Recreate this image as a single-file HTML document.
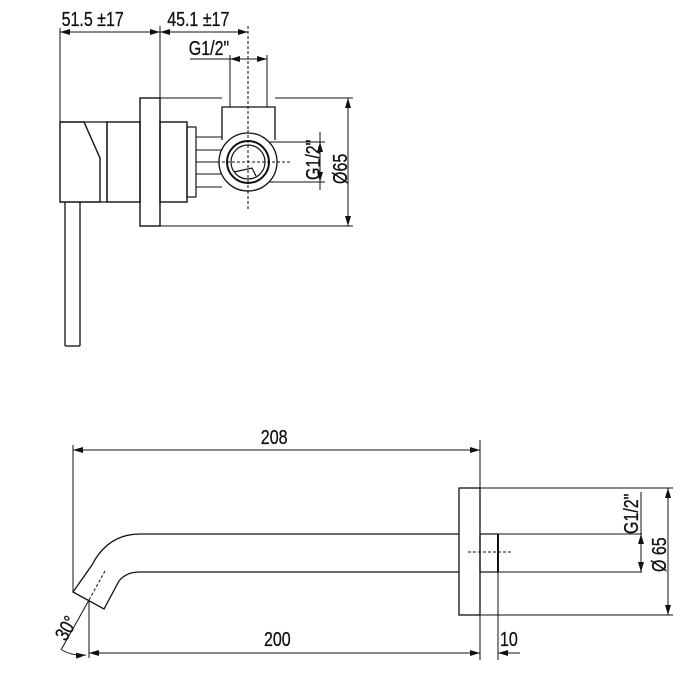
<!DOCTYPE html>
<html><head><style>
html,body{margin:0;padding:0;background:#fff}
svg{display:block}
text{font-family:"Liberation Sans",sans-serif;font-size:20px;fill:#111}
</style></head><body>
<svg width="700" height="700" viewBox="0 0 700 700" xmlns="http://www.w3.org/2000/svg">
<defs>
<marker id="a" viewBox="0 0 10 6" refX="10" refY="3" markerWidth="10" markerHeight="6" orient="auto-start-reverse" markerUnits="userSpaceOnUse"><path d="M0,0 L10,3 L0,6 z" fill="#111"/></marker>
</defs>
<g stroke="#111" stroke-width="1" fill="none">
<line x1="60" y1="28" x2="60" y2="122"/>
<line x1="160" y1="26" x2="160" y2="98"/>
<line x1="60" y1="32" x2="160" y2="32" marker-start="url(#a)" marker-end="url(#a)"/>
<line x1="160" y1="32" x2="248" y2="32" marker-start="url(#a)" marker-end="url(#a)"/>
<line x1="248" y1="26" x2="248" y2="210" stroke-dasharray="3,2"/>
<line x1="190" y1="59" x2="230" y2="59"/>
<line x1="230" y1="59" x2="267" y2="59" marker-start="url(#a)" marker-end="url(#a)"/>
<line x1="230" y1="55" x2="230" y2="107"/>
<line x1="267" y1="55" x2="267" y2="107"/>
<rect x="140" y="98" width="20" height="128" stroke-width="1.4"/>
<line x1="160" y1="98" x2="222" y2="98"/>
<line x1="275" y1="98" x2="353" y2="98"/>
<line x1="160" y1="226" x2="353" y2="226"/>
<line x1="348" y1="98" x2="348" y2="226" marker-start="url(#a)" marker-end="url(#a)"/>
<path d="M60,122 L84,122 L100,158 L100,202 L60,202 Z" stroke-width="1.4"/>
<path d="M84,122 L107,122 L107,202 L100,202" stroke-width="1.2"/>
<rect x="107" y="122" width="33" height="80" stroke-width="1.4"/>
<rect x="160" y="122" width="27" height="80" stroke-width="1.4"/>
<rect x="187" y="127" width="9" height="70" stroke-width="1.2"/>
<line x1="196" y1="137" x2="222" y2="137"/>
<line x1="196" y1="150" x2="222" y2="150"/>
<line x1="196" y1="162" x2="220" y2="162"/>
<line x1="196" y1="174" x2="222" y2="174"/>
<line x1="196" y1="187" x2="222" y2="187"/>
<path d="M222,140 L222,107 L275,107 L275,140" stroke-width="1.3"/>
<circle cx="248" cy="162" r="29" fill="#fff" stroke-width="1.3"/>
<circle cx="248" cy="162" r="21" stroke-width="2"/>
<circle cx="248" cy="162" r="17" stroke-width="1.2"/>
<path d="M234,172 L252,168 L256,176" stroke-width="1.2"/>
<line x1="197" y1="162" x2="290" y2="162" stroke-dasharray="3,2"/>
<line x1="248" y1="130" x2="248" y2="195" stroke-dasharray="3,2"/>
<line x1="270" y1="142" x2="325" y2="142"/>
<line x1="270" y1="182" x2="325" y2="182"/>
<line x1="320" y1="132" x2="320" y2="142"/>
<line x1="320" y1="142" x2="320" y2="182" marker-start="url(#a)" marker-end="url(#a)"/>
<line x1="320" y1="182" x2="320" y2="190"/>
<line x1="65" y1="202" x2="65" y2="346" stroke-width="1.3"/>
<line x1="80" y1="202" x2="80" y2="346" stroke-width="1.3"/>
<line x1="65" y1="346" x2="80" y2="346" stroke-width="1.3"/>

<line x1="73" y1="445" x2="73" y2="592"/>
<line x1="480" y1="440" x2="480" y2="660"/>
<line x1="73" y1="450" x2="480" y2="450" marker-start="url(#a)" marker-end="url(#a)"/>
<rect x="459" y="488" width="21" height="127" stroke-width="1.3"/>
<line x1="480" y1="488" x2="673" y2="488"/>
<line x1="480" y1="615" x2="673" y2="615"/>
<line x1="668" y1="488" x2="668" y2="615" marker-start="url(#a)" marker-end="url(#a)"/>
<path d="M459,534 L140,534 Q108,534 92,565 L73,592 L104,609 L119,581 Q126,572 140,572 L459,572" stroke-width="1.3"/>
<line x1="105" y1="571" x2="89" y2="600" stroke-dasharray="3,2"/>
<rect x="480" y="534" width="18" height="38" stroke-width="1.2"/>
<line x1="498" y1="534" x2="498" y2="572" stroke-width="2"/>
<line x1="498" y1="534" x2="642" y2="534"/>
<line x1="498" y1="572" x2="642" y2="572"/>
<line x1="468" y1="552" x2="511" y2="552" stroke-dasharray="3,2"/>
<line x1="641" y1="492" x2="641" y2="534"/>
<line x1="641" y1="534" x2="641" y2="572" marker-start="url(#a)" marker-end="url(#a)"/>
<line x1="89" y1="600" x2="89" y2="658"/>
<line x1="89" y1="600" x2="61" y2="650"/>
<line x1="498" y1="572" x2="498" y2="660"/>
<line x1="89" y1="653" x2="480" y2="653" marker-start="url(#a)" marker-end="url(#a)"/>
<line x1="520" y1="653" x2="498" y2="653" marker-end="url(#a)"/>
<path d="M62,650 Q72,656 86,655" marker-end="url(#a)"/>
</g>
<g transform="scale(0.8,1)" stroke="#111" stroke-width="0.3">
<text x="77" y="26">51.5 ±17</text>
<text x="209" y="26">45.1 ±17</text>
<text x="236" y="55">G1/2"</text>
<text x="326" y="444">208</text>
<text x="330" y="646">200</text>
<text x="625" y="646">10</text>
</g>
<g stroke="#111" stroke-width="0.3">
<text transform="translate(320,180) rotate(-90) scale(0.8,1)">G1/2"</text>
<text transform="translate(347,184) rotate(-90) scale(0.8,1)">Ø65</text>
<text transform="translate(638,534) rotate(-90) scale(0.8,1)">G1/2"</text>
<text transform="translate(666,572) rotate(-90) scale(0.8,1)">Ø 65</text>
<text transform="translate(66,642) rotate(-60) scale(0.8,1)">30°</text>
</g>
</svg>
</body></html>
